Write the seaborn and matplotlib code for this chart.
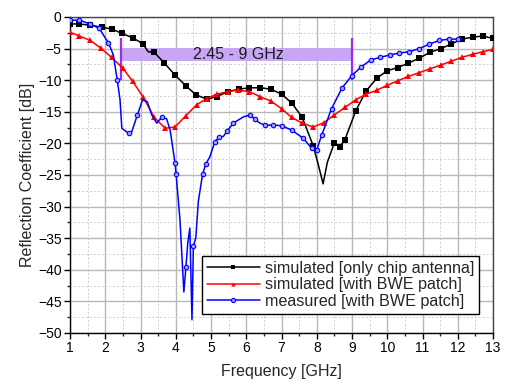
import numpy as np
import pandas as pd
import seaborn as sns
import matplotlib
matplotlib.use("Agg")
import matplotlib.pyplot as plt
from matplotlib.ticker import MultipleLocator

# ---- data ----
f_chip = [1.0, 1.26, 1.57, 1.9, 2.18, 2.48, 2.78, 3.06, 3.22, 3.39, 3.68, 3.98, 4.29, 4.57,
          4.88, 5.16, 5.49, 5.8, 6.09, 6.39, 6.69, 7.0, 7.29, 7.59, 7.9, 8.05, 8.18, 8.3,
          8.5, 8.66, 8.8, 9.11, 9.4, 9.7, 10.0, 10.3, 10.6, 10.91, 11.21, 11.52, 11.81,
          12.11, 12.42, 12.71, 13.0]
s_chip = [-1.1, -1.1, -1.3, -1.6, -1.9, -2.6, -3.3, -4.2, -5.5, -5.6, -7.3, -9.2, -10.9, -12.3,
          -13.0, -12.6, -11.8, -11.4, -11.2, -11.2, -11.4, -12.2, -13.6, -15.9, -20.4, -23.5, -26.4, -23.0,
          -19.9, -20.5, -19.4, -14.8, -11.7, -9.7, -8.5, -8.0, -7.3, -6.5, -5.6, -5.0, -4.3,
          -3.5, -3.2, -3.0, -3.4]
chip_marked = [True] * len(f_chip)
for i, fv in enumerate(f_chip):
    if fv in (3.22, 8.05, 8.18, 8.3):
        chip_marked[i] = False

f_bwe = [1.0, 1.26, 1.57, 1.87, 2.18, 2.5, 2.78, 3.08, 3.39, 3.7, 3.98, 4.29, 4.59, 4.88,
         5.18, 5.47, 5.77, 6.09, 6.39, 6.7, 7.0, 7.29, 7.59, 7.9, 8.21, 8.5, 8.8, 9.11,
         9.4, 9.7, 10.0, 10.3, 10.6, 10.91, 11.21, 11.52, 11.81, 12.11, 12.42, 12.71, 13.0]
s_bwe = [-2.4, -3.0, -3.7, -4.9, -6.4, -8.1, -10.2, -12.7, -15.9, -17.6, -17.4, -15.6, -13.9, -12.9,
         -12.2, -11.8, -11.6, -11.8, -12.6, -13.3, -14.5, -15.9, -16.8, -17.4, -16.7, -15.5, -14.3, -13.1,
         -12.2, -11.6, -10.8, -10.1, -9.4, -8.8, -8.2, -7.6, -7.0, -6.4, -5.9, -5.5, -5.1]

f_meas = [1.0, 1.26, 1.57, 1.83, 2.09, 2.23, 2.34, 2.42, 2.47, 2.66, 2.75, 2.91, 3.06, 3.19,
          3.32, 3.46, 3.6, 3.74, 3.84, 3.98, 4.01, 4.12, 4.23, 4.29, 4.34, 4.4, 4.46, 4.5,
          4.57, 4.64, 4.76, 4.85, 4.97, 5.11, 5.24, 5.35, 5.45, 5.63, 5.92, 6.11, 6.25, 6.39,
          6.53, 6.77, 7.0, 7.29, 7.62, 7.86, 8.0, 8.14, 8.42, 8.71, 8.99, 9.26, 9.53, 9.79,
          10.08, 10.34, 10.62, 10.91, 11.19, 11.48, 11.76, 12.02]
s_meas = [-0.5, -0.5, -1.1, -1.8, -4.1, -6.0, -10.0, -13.1, -17.6, -18.4, -18.2, -15.5, -13.1, -13.4,
          -15.5, -16.8, -15.9, -16.1, -17.9, -23.1, -24.9, -32.1, -43.5, -39.5, -35.8, -33.4, -47.9, -36.3,
          -34.9, -29.2, -24.9, -23.3, -22.1, -19.7, -19.0, -18.9, -18.1, -16.8, -15.8, -15.5, -16.2, -16.8,
          -17.1, -17.1, -17.2, -17.9, -19.2, -20.8, -21.0, -18.7, -14.5, -11.3, -9.3, -7.9, -6.8, -6.4,
          -6.0, -5.7, -5.5, -5.0, -4.3, -3.7, -3.5, -3.5]
meas_mark_idx = [0, 1, 2, 3, 4, 6, 9, 11, 16, 19, 20, 23, 27, 30, 31, 33, 34, 36, 37,
                 39, 40, 42, 43, 44, 45, 46, 47, 48, 49, 50, 51, 52, 53, 54, 55, 56, 57, 58, 59, 60, 61, 62, 63]

labels = ["simulated [only chip antenna]", "simulated [with BWE patch]", "measured [with BWE patch]"]
band_lo, band_hi = 2.45, 9.0
band_text = "2.45 - 9 GHz"

x_ticks = list(range(1, 14))
y_ticks = list(range(-50, 1, 5))

# ---- plot ----
sns.set_theme(style="ticks")
plt.rcParams['font.family'] = ['Liberation Sans', 'DejaVu Sans']

fig = plt.figure(figsize=(5.07, 3.85), dpi=100)
ax = fig.add_axes([70/507, 1-333/385, (493-70)/507, (333-17)/385])

# band annotation
ax.fill_between([band_lo, band_hi], -7.0, -4.85, color="#c9a6f5", lw=0, zorder=1)
ax.vlines([band_lo, band_hi], -10.0, -3.4, color="#9a2cf0", lw=1.6, zorder=2)
ax.text((band_lo + band_hi) / 2 + 0.05, -5.95, band_text, ha="center", va="center",
        fontsize=11.5, color="#1a1a1a", zorder=3)

df_chip = pd.DataFrame({"f": f_chip, "s": s_chip})
df_bwe = pd.DataFrame({"f": f_bwe, "s": s_bwe})
df_meas = pd.DataFrame({"f": f_meas, "s": s_meas})

sns.lineplot(data=df_chip, x="f", y="s", ax=ax, color="black", lw=1.1, marker="s", markersize=4,
             markeredgewidth=0, markevery=chip_marked, label=labels[0], zorder=4, sort=False)
sns.lineplot(data=df_bwe, x="f", y="s", ax=ax, color="red", lw=1.1, marker="^", markersize=4.5,
             markeredgewidth=0, label=labels[1], zorder=4, sort=False)
sns.lineplot(data=df_meas, x="f", y="s", ax=ax, color="blue", lw=1.1, marker="o", markersize=3.2,
             markeredgewidth=0.8, markerfacecolor="#9f9fff", markeredgecolor="blue",
             markevery=meas_mark_idx, label=labels[2], zorder=4, sort=False)

ax.set_xlim(1, 13)
ax.set_ylim(-50, 0)
ax.set_xticks(x_ticks)
ax.set_yticks(y_ticks)
ax.xaxis.set_minor_locator(MultipleLocator(0.5))
ax.yaxis.set_minor_locator(MultipleLocator(2.5))
ax.grid(which="major", color="#b8b8b8", lw=1.0, zorder=0)
ax.grid(which="minor", color="#d0d0d0", lw=0.7, ls=(0, (2, 2)), zorder=0)
ax.set_axisbelow(True)
for sp in ax.spines.values():
    sp.set_visible(True)
    sp.set_color("black")
    sp.set_linewidth(1.0)
ax.spines["right"].set_color("#444444")
ax.spines["top"].set_color("#444444")
ax.tick_params(which="major", direction="out", length=4, width=1, labelsize=10, pad=2, colors="black")
ax.tick_params(which="minor", direction="out", length=2.5, width=1)
ax.set_xlabel("Frequency [GHz]", fontsize=11.5, labelpad=6)
ax.set_ylabel("Reflection Coefficient [dB]", fontsize=11.5, labelpad=2)

leg = ax.legend(loc="lower right", fontsize=11.6, frameon=True, fancybox=False, framealpha=1,
                edgecolor="black", handlelength=3.3, handletextpad=0.3, borderpad=0.3,
                labelspacing=0.1, bbox_to_anchor=(0.986, 0.035))
leg.get_frame().set_linewidth(1.0)
for h in leg.get_lines():
    h.set_markersize(3)

fig.savefig("out.png", dpi=100)
